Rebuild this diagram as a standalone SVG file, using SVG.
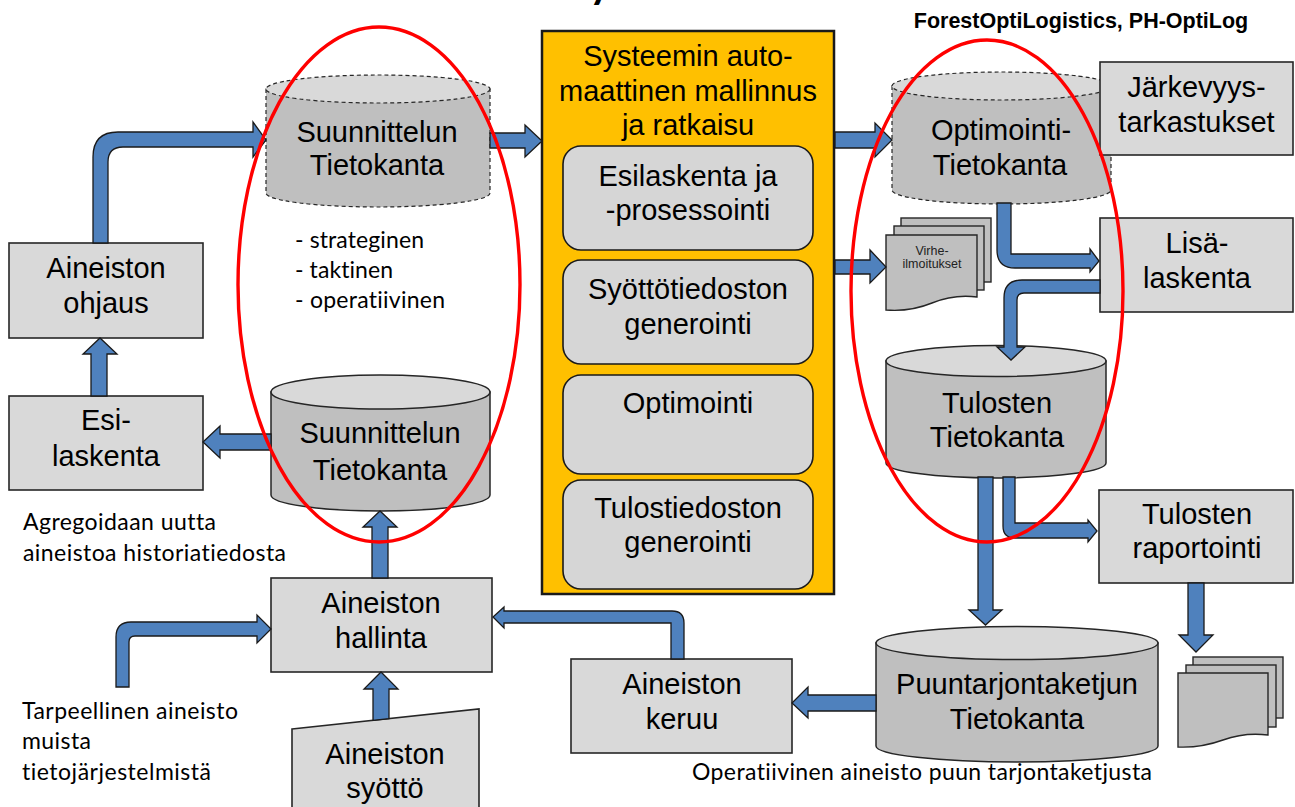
<svg xmlns="http://www.w3.org/2000/svg" width="1295" height="807" viewBox="0 0 1295 807">
<style>
.box{fill:#D9D9D9;stroke:#262626;stroke-width:1.6}
.rbox{fill:#D6D6D6;stroke:#1a1a1a;stroke-width:1.6}
.body{fill:#BFBFBF;stroke:#262626;stroke-width:1.5}
.top{fill:#D9D9D9;stroke:#262626;stroke-width:1.5}
.dash{stroke-dasharray:4 3;stroke-width:1.2}
.doc{fill:#BFBFBF;stroke:#262626;stroke-width:1.4}
.arr{fill:#4F81BD;stroke:#1a1a1a;stroke-width:1.3;stroke-linejoin:miter}
.lbl{font-family:"Liberation Sans",Arial,sans-serif;font-size:29px;fill:#000;text-anchor:middle}
.note{font-family:Lato,"Open Sans",sans-serif;font-size:23px;fill:#000;font-variant-ligatures:none;font-feature-settings:"liga" 0,"clig" 0}
.ring{fill:none;stroke:#FF0000;stroke-width:3.4}
</style>

<text x="589" y="-2" style="font-family:Lato,'Liberation Sans',sans-serif;font-size:42px;font-weight:bold;font-variant-ligatures:none">y</text>
<text x="1081" y="28" style="font-family:'Liberation Sans',Arial,sans-serif;font-size:21.5px;font-weight:bold;text-anchor:middle">ForestOptiLogistics, PH-OptiLog</text>

<g id="yellow-system">
<rect x="542" y="31" width="292" height="563" fill="#FFC000" stroke="#1a1a1a" stroke-width="2.5"/>
<text class="lbl" x="688" y="66">Systeemin auto-</text>
<text class="lbl" x="688" y="100.5">maattinen mallinnus</text>
<text class="lbl" x="688" y="135">ja ratkaisu</text>
</g>
<g id="esilaskenta-prosessointi">
<rect class="rbox" x="563" y="146" width="250" height="104" rx="18"/>
<text class="lbl" x="688" y="186">Esilaskenta ja</text>
<text class="lbl" x="688" y="220">-prosessointi</text>
</g>
<g id="syottotiedoston-generointi">
<rect class="rbox" x="563" y="260" width="250" height="104" rx="18"/>
<text class="lbl" x="688" y="299">Syöttötiedoston</text>
<text class="lbl" x="688" y="334">generointi</text>
</g>
<g id="optimointi">
<rect class="rbox" x="563" y="375" width="250" height="99" rx="18"/>
<text class="lbl" x="688" y="413">Optimointi</text>
</g>
<g id="tulostiedoston-generointi">
<rect class="rbox" x="563" y="480" width="250" height="109" rx="18"/>
<text class="lbl" x="688" y="518">Tulostiedoston</text>
<text class="lbl" x="688" y="552">generointi</text>
</g>

<g id="suunnittelun-tietokanta-top">
<path class="body dash" d="M266,89 V193 A112,14 0 0 0 490,193 V89 Z"/>
<ellipse class="top dash" cx="378" cy="89" rx="112" ry="14"/>
<text class="lbl" x="377" y="142">Suunnittelun</text>
<text class="lbl" x="377" y="175">Tietokanta</text>
</g>
<g id="levels-text">
<text class="note" x="295" y="248" textLength="129">- strateginen</text>
<text class="note" x="295" y="278" textLength="98">- taktinen</text>
<text class="note" x="295" y="308" textLength="150">- operatiivinen</text>
</g>

<g id="optimointi-tietokanta">
<path class="body dash" d="M892,86 V190 A109.5,14 0 0 0 1111,190 V86 Z"/>
<ellipse class="top dash" cx="1001.5" cy="86" rx="109.5" ry="14"/>
<text class="lbl" x="1001" y="140">Optimointi-</text>
<text class="lbl" x="1000" y="175">Tietokanta</text>
</g>
<g id="jarkevyystarkastukset">
<rect class="box" x="1100" y="62" width="193" height="93"/>
<text class="lbl" x="1196.5" y="97">Järkevyys-</text>
<text class="lbl" x="1196.5" y="132">tarkastukset</text>
</g>
<g id="virheilmoitukset">
<rect class="doc" x="901" y="218" width="90" height="64"/>
<rect class="doc" x="894" y="226" width="90" height="64"/>
<path class="doc" d="M886,235 H977 V297 Q954,294 932,303 T886,310 Z"/>
<text x="932" y="255" style="font-family:'Liberation Sans',Arial,sans-serif;font-size:12.5px;text-anchor:middle;fill:#222">Virhe-</text>
<text x="932" y="268" style="font-family:'Liberation Sans',Arial,sans-serif;font-size:12.5px;text-anchor:middle;fill:#222">ilmoitukset</text>
</g>
<g id="lisalaskenta">
<rect class="box" x="1100" y="218" width="193" height="94"/>
<text class="lbl" x="1197" y="253">Lisä-</text>
<text class="lbl" x="1197" y="288">laskenta</text>
</g>
<g id="tulosten-tietokanta">
<path class="body" d="M886,361 V463 A110,15 0 0 0 1106,463 V361 Z"/>
<ellipse class="top" cx="996" cy="361" rx="110" ry="15.5"/>
<text class="lbl" x="997" y="413">Tulosten</text>
<text class="lbl" x="997" y="447">Tietokanta</text>
</g>
<g id="tulosten-raportointi">
<rect class="box" x="1099" y="490" width="194" height="93"/>
<text class="lbl" x="1197" y="524">Tulosten</text>
<text class="lbl" x="1197" y="558">raportointi</text>
</g>
<g id="raportit">
<rect class="doc" x="1193" y="657" width="90" height="61"/>
<rect class="doc" x="1186" y="665" width="90" height="62"/>
<path class="doc" d="M1178,673 H1268 V735 Q1245,732 1223,740 T1178,747 Z"/>
</g>
<g id="puuntarjontaketjun-tietokanta">
<path class="body" d="M876,643 V746 A141,16 0 0 0 1158,746 V643 Z"/>
<ellipse class="top" cx="1017" cy="643" rx="141" ry="16.5"/>
<text class="lbl" x="1017" y="694">Puuntarjontaketjun</text>
<text class="lbl" x="1017" y="729">Tietokanta</text>
</g>
<text class="note" x="692" y="780" textLength="460">Operatiivinen aineisto puun tarjontaketjusta</text>

<g id="aineiston-keruu">
<rect class="box" x="571" y="659" width="221" height="94"/>
<text class="lbl" x="682" y="694">Aineiston</text>
<text class="lbl" x="682" y="729">keruu</text>
</g>
<g id="aineiston-ohjaus">
<rect class="box" x="9" y="243" width="194" height="95"/>
<text class="lbl" x="106" y="278">Aineiston</text>
<text class="lbl" x="106" y="313">ohjaus</text>
</g>
<g id="esilaskenta">
<rect class="box" x="9" y="396" width="194" height="94"/>
<text class="lbl" x="106" y="430">Esi-</text>
<text class="lbl" x="106" y="466">laskenta</text>
</g>
<text class="note" x="23" y="530" textLength="193">Agregoidaan uutta</text>
<text class="note" x="23" y="561" textLength="263">aineistoa historiatiedosta</text>
<g id="suunnittelun-tietokanta-bottom">
<path class="body" d="M271,392 V495 A109.5,16 0 0 0 490,495 V392 Z"/>
<ellipse class="top" cx="380.5" cy="392" rx="109.5" ry="17"/>
<text class="lbl" x="380" y="443">Suunnittelun</text>
<text class="lbl" x="380" y="480">Tietokanta</text>
</g>
<g id="aineiston-hallinta">
<rect class="box" x="271" y="578" width="221" height="94"/>
<text class="lbl" x="381" y="613">Aineiston</text>
<text class="lbl" x="381" y="648">hallinta</text>
</g>
<g id="aineiston-syotto">
<path class="box" d="M292,729 L479,709 V812 H292 Z"/>
<text class="lbl" x="385" y="764">Aineiston</text>
<text class="lbl" x="385" y="798">syöttö</text>
</g>
<text class="note" x="22" y="719" textLength="216">Tarpeellinen aineisto</text>
<text class="note" x="22" y="749" textLength="69">muista</text>
<text class="note" x="22" y="780" textLength="189">tietojärjestelmistä</text>

<g id="connectors">
<path class="arr" d="M93,243 V157 Q93,132 118,132 H253 V122 L266,140 L253,157 V147 H123 Q108,147 108,162 V243 Z"/>
<path class="arr" d="M490,133 H525 V125 L542,141 L525,157 V148 H490 Z"/>
<path class="arr" d="M835,132 H875 V123 L892,140 L875,157 V148 H835 Z"/>
<path class="arr" d="M835,260 H870 V250 L886,267 L870,283 V274 H835 Z"/>
<path class="arr" d="M997,203 V250 Q997,268 1015,268 H1090 V272 L1099,261 L1090,249 V254 H1011 V203 Z"/>
<path class="arr" d="M1100,280 H1022 Q1004,280 1004,298 V347 H997 L1011,360 L1025,347 H1017 V300 Q1017,293 1024,293 H1100 Z"/>
<path class="arr" d="M978,477 V610 H969 L985.5,625 L1002,610 H993 V477 Z"/>
<path class="arr" d="M1003,477 V526 Q1003,538 1015,538 H1088 V542 L1097,531 L1088,520 V523 H1015 V477 Z"/>
<path class="arr" d="M1188,583 V635 H1179 L1196,652 L1213,635 H1204 V583 Z"/>
<path class="arr" d="M876,695 H808 V687 L792,703 L808,718 V711 H876 Z"/>
<path class="arr" d="M684,659 V623 Q684,611 672,611 H504 V607 L493,617 L504,628 V623 H671 V659 Z"/>
<path class="arr" d="M271,434 H220 V426 L203,442 L220,458 V450 H271 Z"/>
<path class="arr" d="M91,396 V354 H83 L100,338 L117,354 H107 V396 Z"/>
<path class="arr" d="M372,578 V527 H363 L380,511 L397,527 H388 V578 Z"/>
<path class="arr" d="M373,720.3 V689 H364 L381,672 L398,689 H389 V718.6 Z"/>
<path class="arr" d="M116,687 V637 Q116,622 131,622 H257 V615 L271,629 L257,643 V636 H135 Q129,636 129,642 V687 Z"/>
</g>

<g id="highlights">
<ellipse class="ring" cx="379" cy="284.5" rx="141" ry="257.5"/>
<ellipse class="ring" cx="987" cy="291" rx="136" ry="251"/>
</g>
</svg>
